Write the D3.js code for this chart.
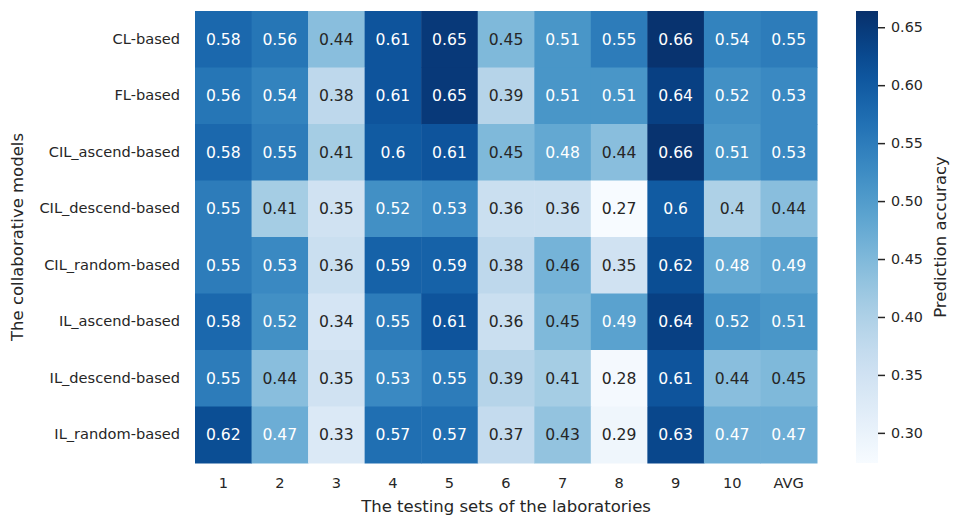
<!DOCTYPE html>
<html>
<head>
<meta charset="utf-8">
<script src="https://cdn.jsdelivr.net/npm/d3@7"></script>
<style>
  body { margin: 0; background: #fff; }
  svg text { font-family: "DejaVu Sans", sans-serif; }
</style>
</head>
<body>
<script>
// rows = models, cols = testing sets
var models = ['CL-based', 'FL-based', 'CIL_ascend-based', 'CIL_descend-based',
              'CIL_random-based', 'IL_ascend-based', 'IL_descend-based', 'IL_random-based'];
var testSets = ['1', '2', '3', '4', '5', '6', '7', '8', '9', '10', 'AVG'];
var accuracy = [
  [0.58, 0.56, 0.44, 0.61, 0.65, 0.45, 0.51, 0.55, 0.66, 0.54, 0.55],
  [0.56, 0.54, 0.38, 0.61, 0.65, 0.39, 0.51, 0.51, 0.64, 0.52, 0.53],
  [0.58, 0.55, 0.41, 0.60, 0.61, 0.45, 0.48, 0.44, 0.66, 0.51, 0.53],
  [0.55, 0.41, 0.35, 0.52, 0.53, 0.36, 0.36, 0.27, 0.60, 0.40, 0.44],
  [0.55, 0.53, 0.36, 0.59, 0.59, 0.38, 0.46, 0.35, 0.62, 0.48, 0.49],
  [0.58, 0.52, 0.34, 0.55, 0.61, 0.36, 0.45, 0.49, 0.64, 0.52, 0.51],
  [0.55, 0.44, 0.35, 0.53, 0.55, 0.39, 0.41, 0.28, 0.61, 0.44, 0.45],
  [0.62, 0.47, 0.33, 0.57, 0.57, 0.37, 0.43, 0.29, 0.63, 0.47, 0.47]
];
var cbarTicks = [0.30, 0.35, 0.40, 0.45, 0.50, 0.55, 0.60, 0.65];
var colorDomain = [0.274, 0.664];

var W = 957, H = 525;
var hm = {left: 195, top: 11, right: 817, bottom: 463};
var cb = {left: 856, right: 878};

var svg = d3.select('body').append('svg').attr('width', W).attr('height', H);

var x = d3.scaleBand().domain(testSets).range([hm.left, hm.right]);
var y = d3.scaleBand().domain(models).range([hm.top, hm.bottom]);
var color = d3.scaleSequential(d3.interpolateBlues).domain(colorDomain);

// same rule as seaborn for picking annotation colour
function lum(c) {
  var rgb = d3.rgb(c);
  var ch = [rgb.r, rgb.g, rgb.b].map(function(v) {
    v = v / 255;
    return v <= 0.03928 ? v / 12.92 : Math.pow((v + 0.055) / 1.055, 2.4);
  });
  return 0.2126 * ch[0] + 0.7152 * ch[1] + 0.0722 * ch[2];
}

var cells = [];
accuracy.forEach(function(row, i) {
  row.forEach(function(v, j) { cells.push({m: models[i], t: testSets[j], v: v}); });
});

var cellG = svg.append('g').selectAll('g').data(cells).join('g');
cellG.append('rect')
  .attr('x', function(d) { return x(d.t); })
  .attr('y', function(d) { return y(d.m); })
  .attr('width', x.bandwidth() + 0.5)
  .attr('height', y.bandwidth() + 0.5)
  .attr('fill', function(d) { return color(d.v); });
cellG.append('text')
  .attr('x', function(d) { return x(d.t) + x.bandwidth() / 2; })
  .attr('y', function(d) { return y(d.m) + y.bandwidth() / 2; })
  .attr('dy', '0.36em')
  .attr('text-anchor', 'middle')
  .attr('font-size', '15.6px')
  .attr('fill', function(d) { return lum(color(d.v)) > 0.408 ? '#262626' : '#ffffff'; })
  .text(function(d) { return d3.format('')(+d.v.toFixed(2)); });

// axes (no tick lines, like seaborn heatmap)
var yAxis = svg.append('g').attr('transform', 'translate(' + hm.left + ',0)')
  .call(d3.axisLeft(y).tickSize(0).tickPadding(15));
var xAxis = svg.append('g').attr('transform', 'translate(0,' + hm.bottom + ')')
  .call(d3.axisBottom(x).tickSize(0).tickPadding(15));
[yAxis, xAxis].forEach(function(a) {
  a.select('.domain').remove();
  a.selectAll('text').attr('font-size', '14.6px').attr('fill', '#262626')
    .style('font-family', '"DejaVu Sans", sans-serif');
});

svg.append('text')
  .attr('x', (hm.left + hm.right) / 2).attr('y', 511.5)
  .attr('text-anchor', 'middle').attr('font-size', '16.5px').attr('fill', '#262626')
  .text('The testing sets of the laboratories');
svg.append('text')
  .attr('transform', 'translate(23,' + (hm.top + hm.bottom) / 2 + ') rotate(-90)')
  .attr('text-anchor', 'middle').attr('font-size', '16.5px').attr('fill', '#262626')
  .text('The collaborative models');

// colorbar
var defs = svg.append('defs');
var grad = defs.append('linearGradient').attr('id', 'cbgrad')
  .attr('x1', 0).attr('y1', 1).attr('x2', 0).attr('y2', 0);
d3.range(0, 1.0001, 0.05).forEach(function(t) {
  grad.append('stop').attr('offset', t).attr('stop-color', d3.interpolateBlues(t));
});
svg.append('rect')
  .attr('x', cb.left).attr('y', hm.top)
  .attr('width', cb.right - cb.left).attr('height', hm.bottom - hm.top)
  .attr('fill', 'url(#cbgrad)');

var cy = d3.scaleLinear().domain(colorDomain).range([hm.bottom, hm.top]);
var cAxis = svg.append('g').attr('transform', 'translate(' + cb.right + ',0)')
  .call(d3.axisRight(cy).tickValues(cbarTicks).tickFormat(d3.format('.2f')).tickSize(7).tickPadding(6));
cAxis.select('.domain').remove();
cAxis.selectAll('line').attr('stroke', '#262626').attr('stroke-width', 1.5);
cAxis.selectAll('text').attr('font-size', '14.3px').attr('fill', '#262626')
  .style('font-family', '"DejaVu Sans", sans-serif');

svg.append('text')
  .attr('transform', 'translate(946,' + (hm.top + hm.bottom) / 2 + ') rotate(-90)')
  .attr('text-anchor', 'middle').attr('font-size', '16.5px').attr('fill', '#262626')
  .text('Prediction accuracy');
</script>
</body>
</html>
